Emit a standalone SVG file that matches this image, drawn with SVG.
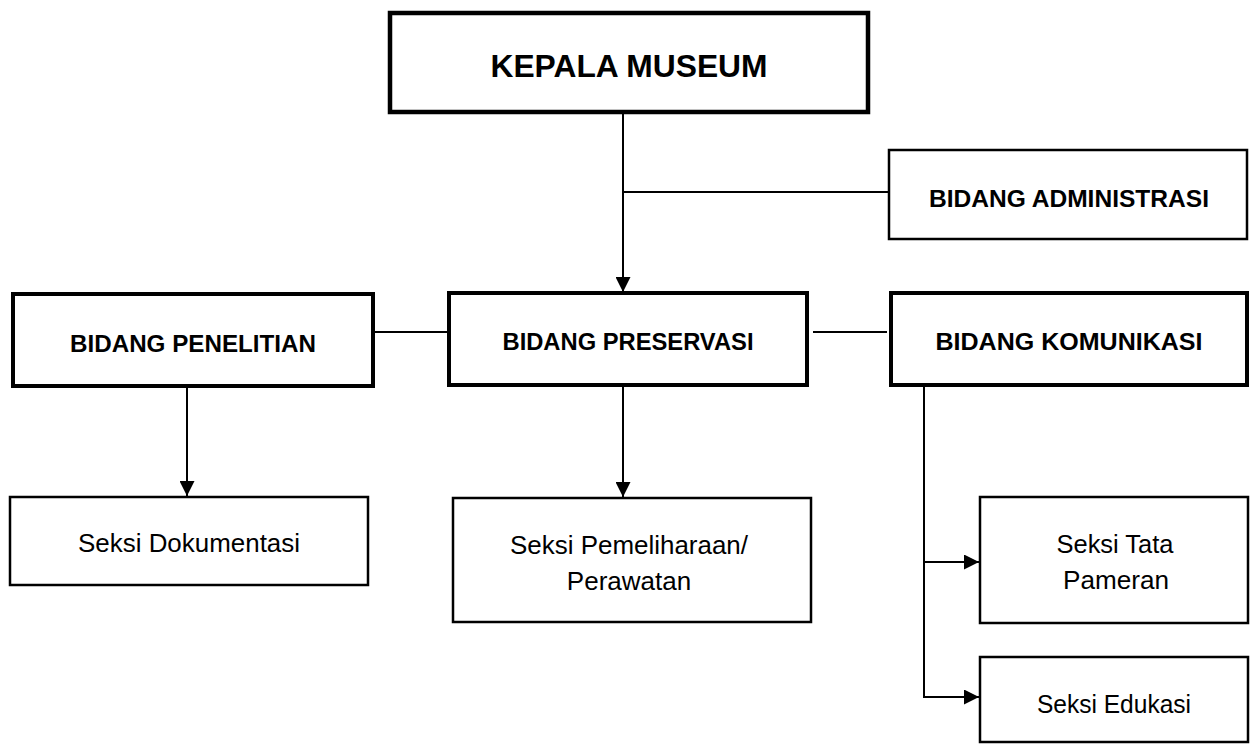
<svg xmlns="http://www.w3.org/2000/svg" width="1250" height="744" viewBox="0 0 1250 744">
<style>
.thick{fill:#fff;stroke:#000;stroke-width:4}
.thin{fill:#fff;stroke:#000;stroke-width:2.5}
.b{font-family:"Liberation Sans",Arial,sans-serif;font-weight:bold;font-size:24px;fill:#000;text-anchor:middle}
.r{font-family:"Liberation Sans",Arial,sans-serif;font-size:26px;fill:#000;text-anchor:middle}
.ln{fill:none;stroke:#000;stroke-width:2}
</style>
<defs>
<marker id="arr" viewBox="0 0 15 15" refX="15" refY="7.5" markerWidth="15" markerHeight="15" markerUnits="userSpaceOnUse" orient="auto">
<path d="M0,0 L15,7.5 L0,15 Z" fill="#000"/>
</marker>
</defs>
<rect width="1250" height="744" fill="#fff"/>
<g id="connectors">
<line class="ln" x1="623" y1="113" x2="623" y2="292" marker-end="url(#arr)"/>
<line class="ln" x1="623" y1="192" x2="889" y2="192"/>
<line class="ln" x1="373" y1="332" x2="449" y2="332"/>
<line class="ln" x1="813" y1="332" x2="887" y2="332"/>
<line class="ln" x1="187" y1="386" x2="187" y2="496" marker-end="url(#arr)"/>
<line class="ln" x1="623" y1="385" x2="623" y2="497" marker-end="url(#arr)"/>
<polyline class="ln" points="924,385 924,697 979,697" marker-end="url(#arr)"/>
<line class="ln" x1="924" y1="562" x2="979" y2="562" marker-end="url(#arr)"/>
</g>
<g id="kepala">
<rect class="thick" x="390" y="13" width="478" height="99" style="stroke-width:4.5"/>
<text class="b" x="629" y="77" style="font-size:31px" textLength="277" lengthAdjust="spacingAndGlyphs">KEPALA MUSEUM</text>
</g>
<g id="administrasi">
<rect class="thin" x="889" y="150" width="358" height="89"/>
<text class="b" x="1069" y="207" textLength="280" lengthAdjust="spacingAndGlyphs">BIDANG ADMINISTRASI</text>
</g>
<g id="penelitian">
<rect class="thick" x="13" y="294" width="360" height="92"/>
<text class="b" x="193" y="352" textLength="246" lengthAdjust="spacingAndGlyphs">BIDANG PENELITIAN</text>
</g>
<g id="preservasi">
<rect class="thick" x="449" y="293" width="358" height="92"/>
<text class="b" x="628" y="350" textLength="251" lengthAdjust="spacingAndGlyphs">BIDANG PRESERVASI</text>
</g>
<g id="komunikasi">
<rect class="thick" x="891" y="293" width="356" height="92"/>
<text class="b" x="1069" y="350" textLength="267" lengthAdjust="spacingAndGlyphs">BIDANG KOMUNIKASI</text>
</g>
<g id="dokumentasi">
<rect class="thin" x="10" y="497" width="358" height="88"/>
<text class="r" x="189" y="552" textLength="222" lengthAdjust="spacingAndGlyphs">Seksi Dokumentasi</text>
</g>
<g id="pemeliharaan">
<rect class="thin" x="453" y="498" width="358" height="124"/>
<text class="r" x="629" y="554" textLength="238" lengthAdjust="spacingAndGlyphs">Seksi Pemeliharaan/</text>
<text class="r" x="629" y="590">Perawatan</text>
</g>
<g id="tata-pameran">
<rect class="thin" x="980" y="497" width="268" height="126"/>
<text class="r" x="1115" y="553" textLength="117" lengthAdjust="spacingAndGlyphs">Seksi Tata</text>
<text class="r" x="1116" y="589" textLength="106" lengthAdjust="spacingAndGlyphs">Pameran</text>
</g>
<g id="edukasi">
<rect class="thin" x="980" y="657" width="268" height="85"/>
<text class="r" x="1114" y="713" textLength="154" lengthAdjust="spacingAndGlyphs">Seksi Edukasi</text>
</g>
</svg>
